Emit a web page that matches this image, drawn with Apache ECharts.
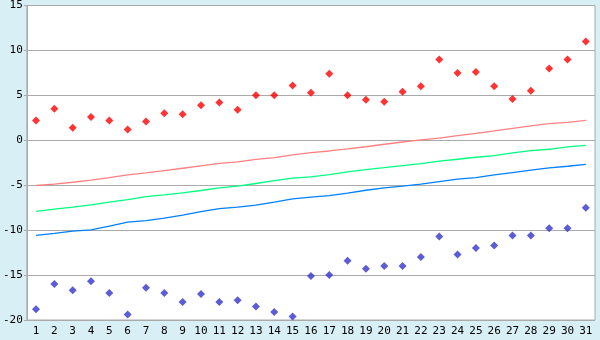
<!DOCTYPE html>
<html>
<head>
<meta charset="utf-8">
<script src="https://cdn.jsdelivr.net/npm/echarts@6/dist/echarts.min.js"></script>
<style>
html,body{margin:0;padding:0;background:#d8eff5;}
#chart{width:600px;height:340px;}
</style>
</head>
<body>
<div id="chart"></div>
<script>
var categories = ["1","2","3","4","5","6","7","8","9","10","11","12","13","14","15","16","17","18","19","20","21","22","23","24","25","26","27","28","29","30","31"];
var redPoints = [2.2,3.5,1.4,2.6,2.2,1.2,2.1,3.0,2.9,3.9,4.2,3.4,5.0,5.0,6.1,5.3,7.4,5.0,4.5,4.3,5.4,6.0,9.0,7.5,7.6,6.0,4.6,5.5,8.0,9.0,11.0];
var bluePoints = [-18.8,-16.0,-16.7,-15.7,-17.0,-19.4,-16.4,-17.0,-18.0,-17.1,-18.0,-17.8,-18.5,-19.1,-19.6,-15.1,-15.0,-13.4,-14.3,-14.0,-14.0,-13.0,-10.7,-12.7,-12.0,-11.7,-10.6,-10.6,-9.8,-9.8,-7.5];
var redLine = [-5.03,-4.89,-4.67,-4.44,-4.15,-3.85,-3.63,-3.37,-3.11,-2.85,-2.58,-2.41,-2.13,-1.93,-1.63,-1.37,-1.19,-0.96,-0.72,-0.44,-0.19,0.04,0.24,0.52,0.78,1.04,1.33,1.6,1.85,2.0,2.22];
var greenLine = [-7.9,-7.67,-7.44,-7.19,-6.88,-6.6,-6.28,-6.07,-5.85,-5.59,-5.3,-5.11,-4.81,-4.5,-4.22,-4.07,-3.81,-3.52,-3.26,-3.05,-2.81,-2.59,-2.33,-2.11,-1.89,-1.7,-1.41,-1.15,-1.0,-0.74,-0.56];
var blueLine = [-10.59,-10.37,-10.12,-9.96,-9.56,-9.11,-8.93,-8.67,-8.33,-7.93,-7.6,-7.44,-7.22,-6.89,-6.52,-6.33,-6.15,-5.89,-5.56,-5.3,-5.11,-4.89,-4.59,-4.33,-4.15,-3.85,-3.59,-3.33,-3.07,-2.89,-2.67];
var yTicks = {min:-20, max:15, interval:5};

var chart = echarts.init(document.getElementById('chart'), null, {renderer:'canvas'});
var labelFont = {fontFamily:'DejaVu Sans Mono', fontSize:11, color:'#000'};
function lineSeries(data, color){
  return {type:'line', data:data, showSymbol:false, symbol:'none', silent:true,
    lineStyle:{color:color, width:1.3}, animation:false, z:2};
}
function pointSeries(data, color){
  return {type:'scatter', data:data, symbol:'diamond', symbolSize:8,
    itemStyle:{color:color}, animation:false, z:3};
}
chart.setOption({
  backgroundColor:'#d8eff5',
  animation:false,
  grid:{left:26, right:5, top:5, bottom:20, show:true, backgroundColor:'#fff', borderColor:'#aaa', borderWidth:1},
  xAxis:{type:'category', data:categories, boundaryGap:true,
    axisLine:{lineStyle:{color:'#aaa'}},
    axisTick:{alignWithLabel:true, length:4, lineStyle:{color:'#555'}},
    axisLabel:Object.assign({interval:0, margin:6}, labelFont),
    splitLine:{show:false}},
  yAxis:{type:'value', min:yTicks.min, max:yTicks.max, interval:yTicks.interval,
    axisLine:{show:true, lineStyle:{color:'#aaa'}},
    axisTick:{show:true, length:3, lineStyle:{color:'#aaa'}},
    axisLabel:Object.assign({margin:4}, labelFont),
    splitLine:{show:true, lineStyle:{color:'#aaa', width:1}}},
  series:[
    lineSeries(redLine,'#ff8080'),
    lineSeries(greenLine,'#00ff80'),
    lineSeries(blueLine,'#0080ff'),
    pointSeries(redPoints,'#ff0000'),
    pointSeries(bluePoints,'#3333cc')
  ]
});
</script>
</body>
</html>
